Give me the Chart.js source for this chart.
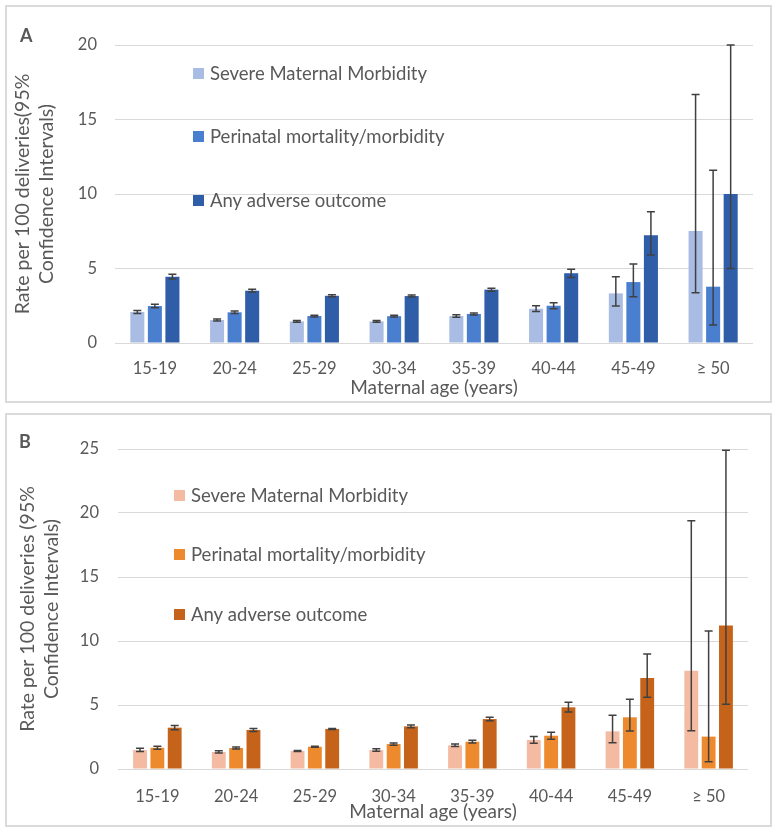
<!DOCTYPE html>
<html>
<head>
<meta charset="utf-8">
<script src="https://cdn.jsdelivr.net/npm/chart.js@4.4.0/dist/chart.umd.min.js"></script>
<style>
    body { margin: 0; background: #fff; }
    .panel { position: absolute; left: 5px; width: 767px; box-sizing: border-box; border: 2px solid #dadada; }
    .panel canvas { position: absolute; left: 0; top: 0; }
    .letter { position: absolute; font: bold 18px Lato, sans-serif; color: #595959; }
</style>
</head>
<body>
<div class="panel" id="panel-a" style="top:5px;height:398px;">
    <canvas id="chart-a" width="763" height="394"></canvas>
    <div class="letter" style="left:13px;top:17px;">A</div>
</div>
<div class="panel" id="panel-b" style="top:413px;height:414px;">
    <canvas id="chart-b" width="763" height="410"></canvas>
    <div class="letter" style="left:12px;top:15px;">B</div>
</div>
<script>
const ageGroups = ["15-19", "20-24", "25-29", "30-34", "35-39", "40-44", "45-49", "\u2265 50"];
const seriesNames = ["Severe Maternal Morbidity", "Perinatal mortality/morbidity", "Any adverse outcome"];

// panel A
const smmRateA = [2.08, 1.54, 1.45, 1.45, 1.81, 2.30, 3.33, 7.52];
const smmLowA = [1.98, 1.47, 1.39, 1.39, 1.73, 2.12, 2.48, 3.38];
const smmHighA = [2.18, 1.61, 1.51, 1.51, 1.89, 2.50, 4.45, 16.67];
const perRateA = [2.48, 2.06, 1.81, 1.80, 1.95, 2.50, 4.09, 3.78];
const perLowA = [2.36, 1.98, 1.75, 1.74, 1.88, 2.30, 3.10, 1.21];
const perHighA = [2.60, 2.14, 1.87, 1.86, 2.02, 2.70, 5.30, 11.60];
const anyRateA = [4.45, 3.51, 3.17, 3.15, 3.58, 4.68, 7.23, 10.00];
const anyLowA = [4.30, 3.42, 3.10, 3.08, 3.48, 4.40, 5.90, 5.00];
const anyHighA = [4.62, 3.60, 3.24, 3.22, 3.68, 4.95, 8.81, 20.00];

// panel B
const smmRateB = [1.48, 1.33, 1.41, 1.48, 1.85, 2.27, 2.94, 7.68];
const smmLowB = [1.36, 1.25, 1.37, 1.38, 1.76, 2.02, 2.06, 2.99];
const smmHighB = [1.62, 1.42, 1.45, 1.59, 1.95, 2.53, 4.19, 19.40];
const perRateB = [1.66, 1.64, 1.74, 1.95, 2.13, 2.60, 4.04, 2.53];
const perLowB = [1.55, 1.57, 1.70, 1.86, 2.03, 2.33, 2.97, 0.57];
const perHighB = [1.78, 1.72, 1.78, 2.04, 2.24, 2.88, 5.45, 10.78];
const anyRateB = [3.23, 3.05, 3.13, 3.33, 3.90, 4.82, 7.11, 11.22];
const anyLowB = [3.07, 2.93, 3.09, 3.22, 3.76, 4.45, 5.60, 5.05];
const anyHighB = [3.40, 3.17, 3.17, 3.44, 4.05, 5.22, 8.98, 24.90];

const yTicksA = [0, 5, 10, 15, 20];
const yTicksB = [0, 5, 10, 15, 20, 25];

const textColor = "#595959";
const gridColor = "#d9d9d9";
const fontFamily = "Lato, 'Open Sans', sans-serif";

// draws the confidence intervals from each dataset's low/high arrays
const errorBarPlugin = {
    id: "errorBars",
    afterDatasetsDraw(chart) {
        const ctx = chart.ctx;
        const yScale = chart.scales.y;
        ctx.save();
        ctx.strokeStyle = "#404040";
        ctx.lineWidth = 1.5;
        chart.data.datasets.forEach((ds, i) => {
            chart.getDatasetMeta(i).data.forEach((bar, j) => {
                const lo = yScale.getPixelForValue(ds.errLow[j]);
                const hi = yScale.getPixelForValue(ds.errHigh[j]);
                ctx.beginPath();
                ctx.moveTo(bar.x, lo);
                ctx.lineTo(bar.x, hi);
                ctx.moveTo(bar.x - 4, lo);
                ctx.lineTo(bar.x + 4, lo);
                ctx.moveTo(bar.x - 4, hi);
                ctx.lineTo(bar.x + 4, hi);
                ctx.stroke();
            });
        });
        ctx.restore();
    }
};

// legend sits inside the plot, one item per row
const insideLegendPlugin = {
    id: "insideLegend",
    afterDraw(chart, args, opts) {
        const ctx = chart.ctx;
        ctx.save();
        ctx.font = "18.5px " + fontFamily;
        ctx.textBaseline = "middle";
        chart.data.datasets.forEach((ds, i) => {
            const y = opts.rows[i];
            ctx.fillStyle = ds.backgroundColor;
            ctx.fillRect(opts.x, y - 5, 11, 11);
            ctx.fillStyle = textColor;
            ctx.fillText(ds.label, opts.x + 17, y + 1);
        });
        ctx.restore();
    }
};

function makeDataset(label, color, values, low, high) {
    return {
        label: label,
        data: values,
        errLow: low,
        errHigh: high,
        backgroundColor: color,
        borderWidth: 0,
        categoryPercentage: 0.66,
        barPercentage: 0.8
    };
}

function createPanel(canvasId, cfg) {
    const canvas = document.getElementById(canvasId);
    return new Chart(canvas.getContext("2d"), {
        type: "bar",
        data: {
            labels: ageGroups,
            datasets: cfg.datasets
        },
        plugins: [errorBarPlugin, insideLegendPlugin],
        options: {
            responsive: false,
            animation: false,
            layout: {
                padding: { top: cfg.top, right: cfg.right, left: 0, bottom: 0 }
            },
            plugins: {
                legend: { display: false },
                tooltip: { enabled: false },
                insideLegend: cfg.legend
            },
            scales: {
                x: {
                    grid: { display: false, drawTicks: false },
                    border: { display: false },
                    ticks: {
                        color: textColor,
                        padding: cfg.xTickPad,
                        font: { family: fontFamily, size: 16.5 }
                    },
                    title: {
                        display: true,
                        text: "Maternal age (years)",
                        color: textColor,
                        padding: { top: 0, bottom: cfg.xTitlePad },
                        font: { family: fontFamily, size: 19, lineHeight: 1.2 }
                    },
                    afterFit(scale) { scale.height = cfg.xHeight; }
                },
                y: {
                    min: 0,
                    max: cfg.ticks[cfg.ticks.length - 1],
                    afterBuildTicks(scale) {
                        scale.ticks = cfg.ticks.map(v => ({ value: v }));
                    },
                    grid: { color: gridColor, lineWidth: 1, drawTicks: false },
                    border: { display: false },
                    ticks: {
                        color: textColor,
                        padding: cfg.yTickPad,
                        font: { family: fontFamily, size: 16.5 }
                    },
                    title: {
                        display: true,
                        text: cfg.yTitle,
                        color: textColor,
                        padding: { top: cfg.yTitlePad, bottom: 0 },
                        font: { family: fontFamily, size: 19.5, lineHeight: 1.26 }
                    },
                    afterFit(scale) { scale.width = cfg.yWidth; }
                }
            }
        }
    });
}

createPanel("chart-a", {
    datasets: [
        makeDataset(seriesNames[0], "#a9bce3", smmRateA, smmLowA, smmHighA),
        makeDataset(seriesNames[1], "#4a7fd0", perRateA, perLowA, perHighA),
        makeDataset(seriesNames[2], "#2f5da8", anyRateA, anyLowA, anyHighA)
    ],
    ticks: yTicksA,
    yTitle: ["Rate per 100 deliveries(95%", "Confidence Intervals)"],
    top: 38, right: 17,
    yWidth: 108, yTickPad: 18, yTitlePad: 3,
    xHeight: 58, xTickPad: 16, xTitlePad: 2,
    legend: { x: 186, rows: [66, 129, 193] }
});

createPanel("chart-b", {
    datasets: [
        makeDataset(seriesNames[0], "#f4bba2", smmRateB, smmLowB, smmHighB),
        makeDataset(seriesNames[1], "#ee8a2e", perRateB, perLowB, perHighB),
        makeDataset(seriesNames[2], "#c5631a", anyRateB, anyLowB, anyHighB)
    ],
    ticks: yTicksB,
    yTitle: ["Rate per 100 deliveries (95%", "Confidence Intervals)"],
    top: 34, right: 22,
    yWidth: 111, yTickPad: 19, yTitlePad: 8,
    xHeight: 56, xTickPad: 18, xTitlePad: 2,
    legend: { x: 167, rows: [80, 139, 199] }
});
</script>
</body>
</html>
